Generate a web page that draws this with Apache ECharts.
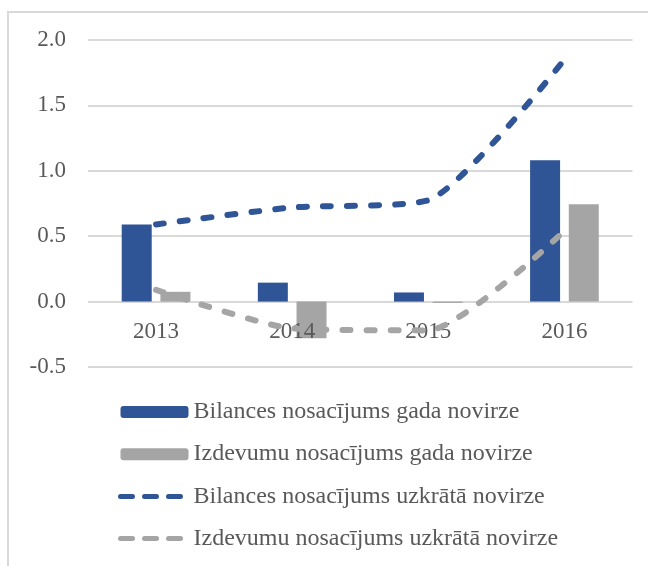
<!DOCTYPE html>
<html>
<head>
<meta charset="utf-8">
<script src="https://cdn.jsdelivr.net/npm/echarts@6/dist/echarts.min.js"></script>
<style>
html,body{margin:0;padding:0;background:#fff;}
#c{width:648px;height:566px;}
</style>
</head>
<body>
<div id="c"></div>
<script>
const categories = ['2013', '2014', '2015', '2016'];
const bilancesGada = [0.59, 0.145, 0.07, 1.08];
const izdevumuGada = [0.075, -0.28, -0.01, 0.745];
const bilancesUzkr = [0.59, 0.72, 0.775, 1.85];
const izdevumuUzkr = [0.09, -0.205, -0.22, 0.54];
const seriesNames = [
  'Bilances nosacījums gada novirze',
  'Izdevumu nosacījums gada novirze',
  'Bilances nosacījums uzkrātā novirze',
  'Izdevumu nosacījums uzkrātā novirze'
];

const BLUE = '#2F5597';
const GRAY = '#A5A5A5';
const TXT = '#595959';
const FONT = '"Liberation Serif", "Times New Roman", serif';

const yMin = -0.5, yMax = 2.0;
const gridTop = 40, gridBottomY = 367;
const zeroOffset = -(gridBottomY - gridTop) * (0 - yMin) / (yMax - yMin);

const chart = echarts.init(document.getElementById('c'), null, {renderer: 'canvas'});
chart.setOption({
  backgroundColor: '#ffffff',
  animation: false,
  graphic: [{
    type: 'rect',
    shape: {x: 8, y: 12, width: 700, height: 600},
    style: {fill: 'none', stroke: '#d9d9d9', lineWidth: 2},
    z: -1
  }],
  grid: {left: 88, right: 15.5, top: gridTop, bottom: 566 - gridBottomY, containLabel: false},
  legend: {
    orient: 'vertical',
    left: 118,
    top: 400,
    padding: 0,
    itemWidth: 68,
    itemHeight: 12,
    itemGap: 18.2,
    textStyle: {fontFamily: FONT, fontSize: 24, color: TXT, lineHeight: 24},
    data: [
      {name: seriesNames[0]},
      {name: seriesNames[1]},
      {name: seriesNames[2], itemStyle: {opacity: 0},
       lineStyle: {width: 5, type: [12, 12], cap: 'round', color: BLUE}},
      {name: seriesNames[3], itemStyle: {opacity: 0},
       lineStyle: {width: 5, type: [12, 12], cap: 'round', color: GRAY}}
    ]
  },
  xAxis: {
    type: 'category',
    data: categories,
    offset: zeroOffset,
    z: 3,
    axisLine: {show: false, onZero: false},
    axisTick: {show: false},
    axisLabel: {fontFamily: FONT, fontSize: 23, color: TXT, margin: 19}
  },
  yAxis: {
    type: 'value',
    min: yMin,
    max: yMax,
    interval: 0.5,
    axisLine: {show: false},
    axisTick: {show: false},
    splitLine: {lineStyle: {color: '#d9d9d9', width: 2}},
    axisLabel: {
      fontFamily: FONT, fontSize: 23, color: TXT, margin: 22,
      formatter: v => v.toFixed(1)
    }
  },
  series: [
    {
      name: seriesNames[0], type: 'bar', data: bilancesGada,
      barWidth: 30, barGap: '29%',
      itemStyle: {color: BLUE}
    },
    {
      name: seriesNames[1], type: 'bar', data: izdevumuGada,
      barWidth: 30,
      itemStyle: {color: GRAY}
    },
    {
      name: seriesNames[2], type: 'line', data: bilancesUzkr,
      symbol: 'none', smooth: 0.2,
      itemStyle: {color: BLUE},
      lineStyle: {color: BLUE, width: 6, type: [8, 16], cap: 'round'},
      z: 5
    },
    {
      name: seriesNames[3], type: 'line', data: izdevumuUzkr,
      symbol: 'none', smooth: 0.2,
      itemStyle: {color: GRAY},
      lineStyle: {color: GRAY, width: 6, type: [8, 16], cap: 'round'},
      z: 5
    }
  ]
});
</script>
</body>
</html>
